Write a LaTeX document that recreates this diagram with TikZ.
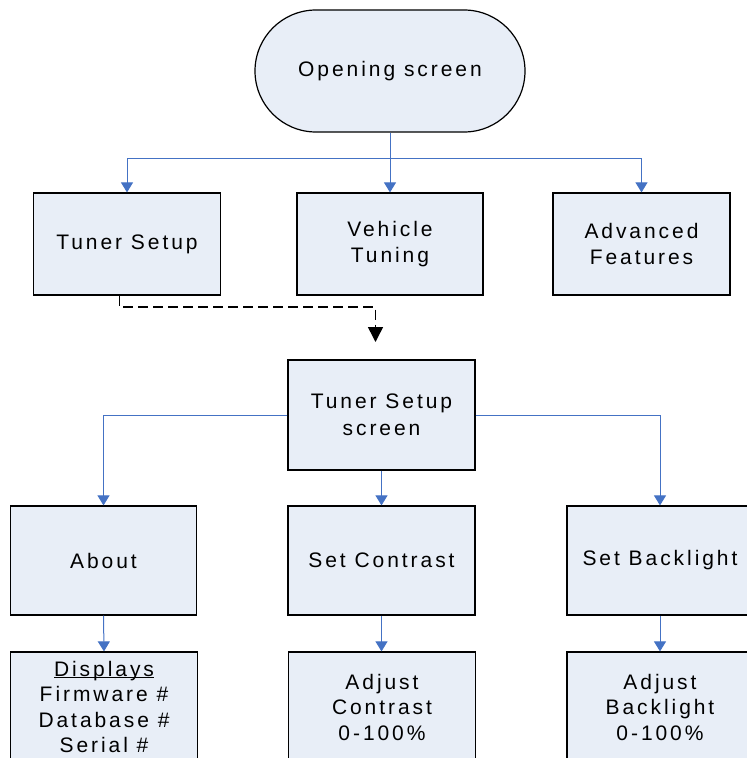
\documentclass[tikz,border=0pt]{standalone}
\usepackage{fontspec}
\setmainfont{Liberation Sans}[LetterSpace=14]
\usepackage{tikz}
\usetikzlibrary{arrows.meta}
\definecolor{boxfill}{RGB}{232,238,247}
\definecolor{flowblue}{RGB}{68,114,196}
\newcommand{\ulined}[1]{\underline{\smash{#1}}\vphantom{#1}}
\tikzset{
    screen/.style={shape=rectangle, draw=black, line width=1.2pt, fill=boxfill,
        inner sep=0pt, align=center, font=\fontsize{21}{26.5}\selectfont},
    listscreen/.style={screen, font=\fontsize{21}{25.5}\selectfont},
    startscreen/.style={screen, rounded corners=61pt, minimum width=270pt, minimum height=122pt},
    flow/.style={draw=flowblue, line width=1pt, -{Triangle[length=10pt,width=12pt]}},
    jump/.style={draw=black, line width=1.5pt, dash pattern=on 10pt off 5pt,
        -{Triangle[length=15pt,width=15pt]}}
}
\begin{document}
\begin{tikzpicture}[x=1pt, y=-1pt]
    \useasboundingbox (0,0) rectangle (747,758);
    \node[startscreen] at (390,71) (Open) {Opening screen};
    \node[screen, minimum width=187pt, minimum height=102pt] at (127,244) (Tuner) {Tuner Setup};
    \node[screen, minimum width=186pt, minimum height=102pt] at (390,244) (Vehicle) {Vehicle\\Tuning};
    \node[screen, minimum width=177pt, minimum height=102pt] at (641.5,244) (Advanced) {Advanced\\Features};
    \node[screen, minimum width=187pt, minimum height=110pt] at (381.5,415) (TunerScr) {Tuner Setup\\screen};
    \node[screen, minimum width=186pt, minimum height=109pt] at (103.5,560.5) (About) {About};
    \node[screen, minimum width=187pt, minimum height=109pt] at (381.5,560.5) (Contrast) {Set Contrast};
    \node[screen, minimum width=186pt, minimum height=109pt] at (660,560.5) (Backlight) {Set Backlight};
    \node[listscreen, minimum width=187pt, minimum height=110pt] at (104,707) (Displays)
        {\ulined{Displays}\\Firmware \#\\Database \#\\Serial \#};
    \node[listscreen, minimum width=187pt, minimum height=110pt] at (382,707) (AdjContrast)
        {Adjust\\Contrast\\0-100\%};
    \node[listscreen, minimum width=186pt, minimum height=110pt] at (660,707) (AdjBacklight)
        {Adjust\\Backlight\\0-100\%};
    \coordinate (TunerDrop) at (375.5,342);
    \draw[flow] (Open.south) -- (Vehicle.north);
    \draw[flow] (Open.south) -- +(0,25.5) -| (Tuner.north);
    \draw[flow] (Open.south) -- +(0,25.5) -| (Advanced.north);
    \draw[jump] ([xshift=-7.5pt]Tuner.south) -- +(0,11.5) -| (TunerDrop);
    \draw[flow] (TunerScr.west) -| (About.north);
    \draw[flow] (TunerScr.south) -- (Contrast.north);
    \draw[flow] (TunerScr.east) -| (Backlight.north);
    \draw[flow] (About.south) -- (Displays.north);
    \draw[flow] (Contrast.south) -- (Contrast.south |- AdjContrast.north);
    \draw[flow] (Backlight.south) -- (AdjBacklight.north);
\end{tikzpicture}
\end{document}
